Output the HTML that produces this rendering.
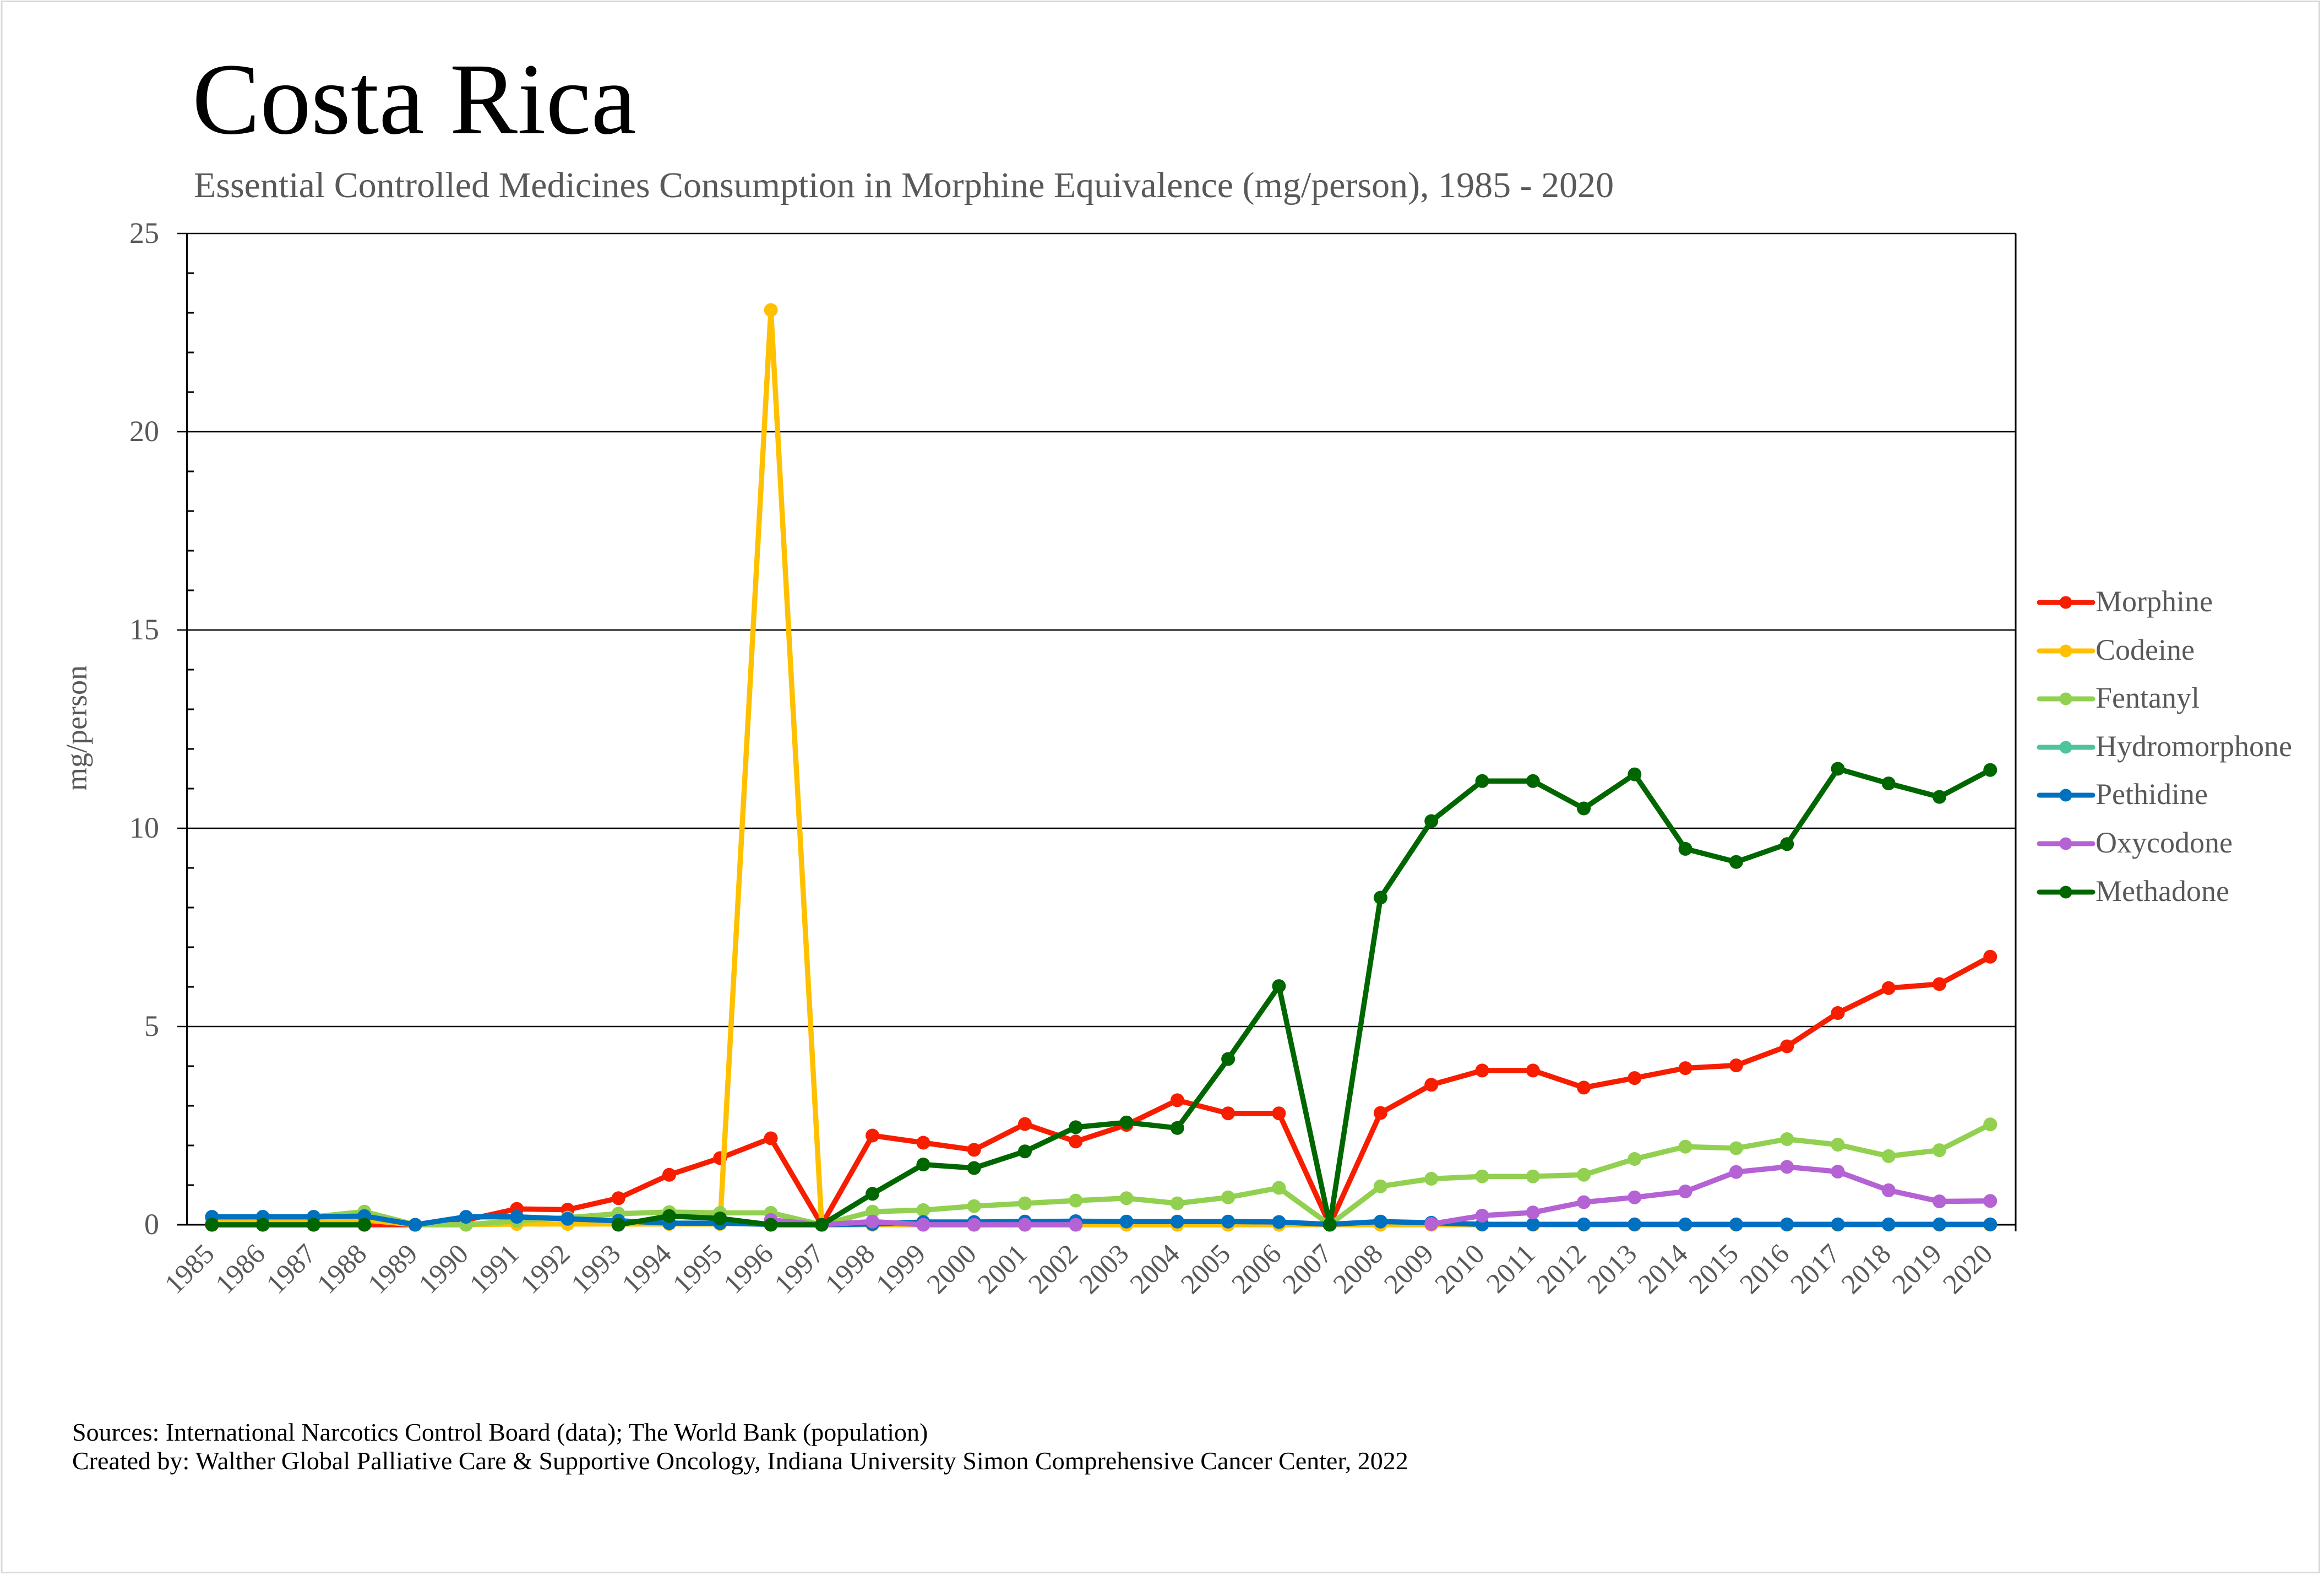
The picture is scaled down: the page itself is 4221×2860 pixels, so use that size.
<!DOCTYPE html>
<html>
<head>
<meta charset="utf-8">
<style>
html,body{margin:0;padding:0;background:#fff;}
svg{display:block;}
text{font-family:"Liberation Serif","Times New Roman",serif;}
</style>
</head>
<body>
<svg width="4221" height="2860" viewBox="0 0 4221 2860" xmlns="http://www.w3.org/2000/svg">
<defs>
<marker id="mR" viewBox="-14 -14 28 28" markerWidth="28" markerHeight="28" refX="0" refY="0" markerUnits="userSpaceOnUse"><circle r="12.5" fill="#F71E00"/></marker>
<marker id="mY" viewBox="-14 -14 28 28" markerWidth="28" markerHeight="28" refX="0" refY="0" markerUnits="userSpaceOnUse"><circle r="12.5" fill="#FFC000"/></marker>
<marker id="mG" viewBox="-14 -14 28 28" markerWidth="28" markerHeight="28" refX="0" refY="0" markerUnits="userSpaceOnUse"><circle r="12.5" fill="#92D050"/></marker>
<marker id="mB" viewBox="-14 -14 28 28" markerWidth="28" markerHeight="28" refX="0" refY="0" markerUnits="userSpaceOnUse"><circle r="12.5" fill="#0070C0"/></marker>
<marker id="mP" viewBox="-14 -14 28 28" markerWidth="28" markerHeight="28" refX="0" refY="0" markerUnits="userSpaceOnUse"><circle r="12.5" fill="#B462D4"/></marker>
<marker id="mD" viewBox="-14 -14 28 28" markerWidth="28" markerHeight="28" refX="0" refY="0" markerUnits="userSpaceOnUse"><circle r="12.5" fill="#006600"/></marker>
</defs>

<rect x="0" y="0" width="4221" height="2860" fill="#fff"/>
<rect x="3" y="2.5" width="4209.5" height="2853" fill="none" stroke="#d9d9d9" stroke-width="3"/>

<!-- Title -->
<text x="349" y="242" font-size="185" fill="#000">Costa Rica</text>
<text x="352" y="358" font-size="66" fill="#595959">Essential Controlled Medicines Consumption in Morphine Equivalence (mg/person), 1985 - 2020</text>

<!-- Gridlines -->
<g stroke="#000" stroke-width="2.5" fill="none">
<path d="M322 424H3661M322 784H3661M322 1144H3661M322 1504H3661M322 1864H3661"/>
</g>
<!-- Axes -->
<g stroke="#000" stroke-width="3" fill="none">
<path d="M339.5 424V2224"/>
<path d="M322 2224H3661"/>
<path d="M3661 424V2236"/>
<path d="M339 2152h13M339 2080h13M339 2008h13M339 1936h13M339 1792h13M339 1720h13M339 1648h13M339 1576h13M339 1432h13M339 1360h13M339 1288h13M339 1216h13M339 1072h13M339 1000h13M339 928h13M339 856h13M339 712h13M339 640h13M339 568h13M339 496h13"/>
</g>

<!-- Y tick labels -->
<g font-size="54" fill="#595959" text-anchor="end">
<text x="289" y="2241">0</text>
<text x="289" y="1881">5</text>
<text x="289" y="1521">10</text>
<text x="289" y="1161">15</text>
<text x="289" y="801">20</text>
<text x="289" y="441">25</text>
</g>
<text transform="translate(157,1322) rotate(-90)" font-size="54" fill="#595959" text-anchor="middle">mg/person</text>

<!-- X tick labels -->
<g font-size="51" fill="#595959" text-anchor="end">
<text transform="translate(392,2280) rotate(-45)">1985</text>
<text transform="translate(484.3,2280) rotate(-45)">1986</text>
<text transform="translate(576.6,2280) rotate(-45)">1987</text>
<text transform="translate(668.8,2280) rotate(-45)">1988</text>
<text transform="translate(761.1,2280) rotate(-45)">1989</text>
<text transform="translate(853.4,2280) rotate(-45)">1990</text>
<text transform="translate(945.7,2280) rotate(-45)">1991</text>
<text transform="translate(1038,2280) rotate(-45)">1992</text>
<text transform="translate(1130.2,2280) rotate(-45)">1993</text>
<text transform="translate(1222.5,2280) rotate(-45)">1994</text>
<text transform="translate(1314.8,2280) rotate(-45)">1995</text>
<text transform="translate(1407.1,2280) rotate(-45)">1996</text>
<text transform="translate(1499.4,2280) rotate(-45)">1997</text>
<text transform="translate(1591.6,2280) rotate(-45)">1998</text>
<text transform="translate(1683.9,2280) rotate(-45)">1999</text>
<text transform="translate(1776.2,2280) rotate(-45)">2000</text>
<text transform="translate(1868.5,2280) rotate(-45)">2001</text>
<text transform="translate(1960.8,2280) rotate(-45)">2002</text>
<text transform="translate(2053,2280) rotate(-45)">2003</text>
<text transform="translate(2145.3,2280) rotate(-45)">2004</text>
<text transform="translate(2237.6,2280) rotate(-45)">2005</text>
<text transform="translate(2329.9,2280) rotate(-45)">2006</text>
<text transform="translate(2422.2,2280) rotate(-45)">2007</text>
<text transform="translate(2514.4,2280) rotate(-45)">2008</text>
<text transform="translate(2606.7,2280) rotate(-45)">2009</text>
<text transform="translate(2699,2280) rotate(-45)">2010</text>
<text transform="translate(2791.3,2280) rotate(-45)">2011</text>
<text transform="translate(2883.6,2280) rotate(-45)">2012</text>
<text transform="translate(2975.8,2280) rotate(-45)">2013</text>
<text transform="translate(3068.1,2280) rotate(-45)">2014</text>
<text transform="translate(3160.4,2280) rotate(-45)">2015</text>
<text transform="translate(3252.7,2280) rotate(-45)">2016</text>
<text transform="translate(3345,2280) rotate(-45)">2017</text>
<text transform="translate(3437.2,2280) rotate(-45)">2018</text>
<text transform="translate(3529.5,2280) rotate(-45)">2019</text>
<text transform="translate(3621.8,2280) rotate(-45)">2020</text>
</g>

<!-- Series -->
<g fill="none" stroke-width="9.5" stroke-linejoin="round" stroke-linecap="round">
<!-- Morphine -->
<polyline stroke="#F71E00" marker-start="url(#mR)" marker-mid="url(#mR)" marker-end="url(#mR)" points="385,2224 477.3,2224 569.6,2224 661.8,2224 754.1,2224 846.4,2215.4 938.7,2195.2 1031,2196.6 1123.2,2175.8 1215.5,2133.3 1307.8,2103 1400.1,2067 1492.4,2224 1584.6,2062 1676.9,2075 1769.2,2087.9 1861.5,2041.1 1953.8,2072.8 2046,2042.6 2138.3,1997.9 2230.6,2021.7 2322.9,2021.7 2415.2,2224 2507.4,2021 2599.7,1969.8 2692,1943.9 2784.3,1943.9 2876.6,1974.9 2968.8,1957.6 3061.1,1939.6 3153.4,1934.6 3245.7,1900 3338,1839.5 3430.2,1794.2 3522.5,1787 3614.8,1737.3"/>
<!-- Codeine -->
<polyline stroke="#FFC000" marker-start="url(#mY)" marker-mid="url(#mY)" marker-end="url(#mY)" points="385,2216.8 477.3,2216.8 569.6,2216.8 661.8,2215.4 754.1,2224 846.4,2224 938.7,2222.6 1031,2222.6 1123.2,2222.6 1215.5,2222.6 1307.8,2222.6 1400.1,563 1492.4,2224 1584.6,2224 1676.9,2224 1769.2,2224 1861.5,2224 1953.8,2224 2046,2224 2138.3,2224 2230.6,2224 2322.9,2224 2415.2,2224 2507.4,2224 2599.7,2224 2692,2224 2784.3,2224 2876.6,2224 2968.8,2224 3061.1,2224 3153.4,2224 3245.7,2224 3338,2224 3430.2,2224 3522.5,2224 3614.8,2224"/>
<!-- Fentanyl -->
<polyline stroke="#92D050" marker-start="url(#mG)" marker-mid="url(#mG)" marker-end="url(#mG)" points="385,2209.6 477.3,2209.6 569.6,2209.6 661.8,2200.2 754.1,2224 846.4,2224 938.7,2216.8 1031,2211 1123.2,2203.8 1215.5,2201 1307.8,2202.4 1400.1,2202.4 1492.4,2224 1584.6,2200.2 1676.9,2197.4 1769.2,2190.2 1861.5,2185.1 1953.8,2180.1 2046,2175.8 2138.3,2185.1 2230.6,2174.3 2322.9,2157 2415.2,2224 2507.4,2154.2 2599.7,2140.5 2692,2136.2 2784.3,2136.2 2876.6,2133.3 2968.8,2104.5 3061.1,2082.2 3153.4,2085 3245.7,2068.5 3338,2078.6 3430.2,2099.4 3522.5,2088.6 3614.8,2041.8"/>
<!-- Pethidine -->
<polyline stroke="#0070C0" marker-start="url(#mB)" marker-mid="url(#mB)" marker-end="url(#mB)" points="385,2209.6 477.3,2209.6 569.6,2209.6 661.8,2208.2 754.1,2224 846.4,2209.6 938.7,2209.6 1031,2213.2 1123.2,2216.8 1215.5,2221.1 1307.8,2221.1 1400.1,2223.3 1492.4,2224 1584.6,2222.6 1676.9,2219 1769.2,2219 1861.5,2218.2 1953.8,2217.5 2046,2218.2 2138.3,2218.2 2230.6,2218.2 2322.9,2219 2415.2,2223.3 2507.4,2218.2 2599.7,2220.4 2692,2223.3 2784.3,2223.3 2876.6,2223.3 2968.8,2223.3 3061.1,2223.3 3153.4,2223.3 3245.7,2223.3 3338,2223.3 3430.2,2223.3 3522.5,2223.3 3614.8,2223.3"/>
<!-- Oxycodone -->
<polyline stroke="#B462D4" marker-start="url(#mP)" marker-mid="url(#mP)" marker-end="url(#mP)" points="1400.1,2215.4 1492.4,2224 1584.6,2218.2 1676.9,2224 1769.2,2224 1861.5,2224 1953.8,2224"/>
<polyline stroke="#B462D4" marker-start="url(#mP)" marker-mid="url(#mP)" marker-end="url(#mP)" points="2599.7,2222.6 2692,2207.4 2784.3,2201.7 2876.6,2183 2968.8,2174.3 3061.1,2163.5 3153.4,2128.2 3245.7,2118.9 3338,2127.5 3430.2,2161.4 3522.5,2181.5 3614.8,2180.8"/>
<!-- Methadone -->
<polyline stroke="#006600" marker-start="url(#mD)" marker-mid="url(#mD)" marker-end="url(#mD)" points="385,2224 477.3,2224 569.6,2224 661.8,2224"/>
<polyline stroke="#006600" marker-start="url(#mD)" marker-mid="url(#mD)" marker-end="url(#mD)" points="1123.2,2224 1215.5,2208.2 1307.8,2212.5 1400.1,2224 1492.4,2224 1584.6,2167.8 1676.9,2114.6 1769.2,2121 1861.5,2090.8 1953.8,2046.9 2046,2038.2 2138.3,2048.3 2230.6,1923 2322.9,1790.6 2415.2,2224 2507.4,1630 2599.7,1491 2692,1418.3 2784.3,1418.3 2876.6,1468 2968.8,1406.1 3061.1,1541.4 3153.4,1565.2 3245.7,1532.8 3338,1396 3430.2,1422.6 3522.5,1447.1 3614.8,1398.2"/>
</g>

<!-- Legend -->
<g stroke-width="9" stroke-linecap="round">
<line x1="3704" y1="1094" x2="3801" y2="1094" stroke="#F71E00"/>
<line x1="3704" y1="1182" x2="3801" y2="1182" stroke="#FFC000"/>
<line x1="3704" y1="1269" x2="3801" y2="1269" stroke="#92D050"/>
<line x1="3704" y1="1357" x2="3801" y2="1357" stroke="#4DC39E"/>
<line x1="3704" y1="1444" x2="3801" y2="1444" stroke="#0070C0"/>
<line x1="3704" y1="1532" x2="3801" y2="1532" stroke="#B462D4"/>
<line x1="3704" y1="1620" x2="3801" y2="1620" stroke="#006600"/>
</g>
<g>
<circle cx="3752" cy="1094" r="11.5" fill="#F71E00"/>
<circle cx="3752" cy="1182" r="11.5" fill="#FFC000"/>
<circle cx="3752" cy="1269" r="11.5" fill="#92D050"/>
<circle cx="3752" cy="1357" r="11.5" fill="#4DC39E"/>
<circle cx="3752" cy="1444" r="11.5" fill="#0070C0"/>
<circle cx="3752" cy="1532" r="11.5" fill="#B462D4"/>
<circle cx="3752" cy="1620" r="11.5" fill="#006600"/>
</g>
<g font-size="54" fill="#595959">
<text x="3806" y="1110">Morphine</text>
<text x="3806" y="1198">Codeine</text>
<text x="3806" y="1285">Fentanyl</text>
<text x="3806" y="1373">Hydromorphone</text>
<text x="3806" y="1460">Pethidine</text>
<text x="3806" y="1548">Oxycodone</text>
<text x="3806" y="1636">Methadone</text>
</g>

<!-- Footer -->
<g font-size="46" fill="#000">
<text x="131" y="2616">Sources: International Narcotics Control Board (data); The World Bank (population)</text>
<text x="131" y="2668">Created by: Walther Global Palliative Care &amp; Supportive Oncology, Indiana University Simon Comprehensive Cancer Center, 2022</text>
</g>
</svg>
</body>
</html>
